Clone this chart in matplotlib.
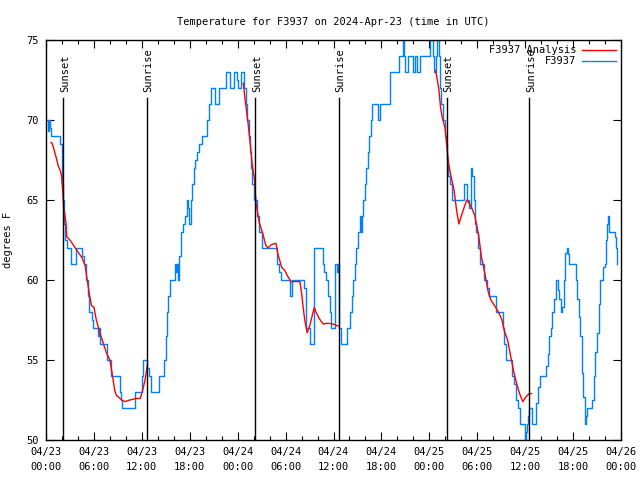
import numpy as np
import matplotlib
matplotlib.use("Agg")
import matplotlib.pyplot as plt
from matplotlib.ticker import MultipleLocator

# -------------------------------
# Data (hours since 04/23 00:00 UTC)
# -------------------------------
obs_hours = [0.0, 0.3, 0.4, 0.55, 0.65, 1.75, 1.95, 2.05, 2.15, 2.25, 2.4, 2.6, 3.1, 3.8,
             4.5, 4.7, 5.0, 5.2, 5.4, 5.7, 5.9, 6.5, 6.6, 6.75, 7.7, 8.2, 9.25, 9.4, 9.5,
             11.1, 12.0, 12.1, 12.7, 12.9, 13.2, 14.2, 14.8, 15.0, 15.15, 15.3, 15.5, 16.1,
             16.25, 16.35, 16.5, 16.7, 16.9, 17.2, 17.4, 17.6, 17.75, 17.9, 18.1, 18.3, 18.5,
             18.7, 18.9, 19.2, 19.5, 20.2, 20.4, 20.6, 21.1, 21.6, 22.5, 23.1, 23.6, 23.9,
             24.1, 24.4, 24.8, 25.0, 25.2, 25.4, 25.55, 25.7, 25.85, 26.1, 26.4, 26.7, 27.0,
             28.9, 29.2, 29.4, 30.5, 30.8, 32.3, 32.5, 32.6, 33.1, 33.6, 34.7, 34.85, 35.1,
             35.3, 35.5, 35.7, 36.25, 36.45, 36.55, 36.65, 36.9, 37.7, 38.1, 38.3, 38.5,
             38.7, 38.85, 39.1, 39.3, 39.45, 39.6, 39.75, 39.9, 40.1, 40.3, 40.5, 40.65,
             40.8, 41.6, 41.85, 43.1, 44.2, 44.65, 44.8, 45.0, 45.3, 45.9, 46.2, 46.4, 46.8,
             48.1, 48.4, 48.6, 48.8, 49.0, 49.15, 49.3, 49.5, 49.7, 49.9, 50.1, 50.25, 50.4,
             50.6, 50.9, 52.3, 52.7, 52.95, 53.2, 53.4, 53.6, 53.7, 53.9, 54.1, 54.4, 54.9,
             55.2, 55.5, 56.4, 57.2, 57.35, 57.6, 58.35, 58.6, 58.8, 59.1, 59.3, 59.95, 60.1,
             60.25, 60.4, 60.5, 60.85, 61.4, 61.6, 61.9, 62.6, 62.8, 63.0, 63.2, 63.4, 63.65,
             63.85, 64.05, 64.2, 64.45, 64.6, 64.8, 65.0, 65.2, 65.35, 65.45, 66.4, 66.55,
             66.7, 66.9, 67.1, 67.3, 67.5, 67.65, 67.8, 68.4, 68.6, 68.8, 69.0, 69.2, 69.4,
             69.7, 69.95, 70.1, 70.25, 70.35, 70.5, 71.2, 71.35, 71.5]
obs_temps = [70, 69.3, 70, 69.5, 69, 68.5, 67.5, 66, 65, 63.5, 62.5, 62, 61, 62,
             61.5, 61, 60, 59, 58, 57.5, 57, 56.5, 57, 56, 55, 54, 53, 52.5, 52,
             53, 54, 55, 54.5, 54, 53, 54, 55, 56.5, 58, 59, 60, 61,
             60.5, 61, 60, 61.5, 63, 63.5, 64, 65, 64.5, 63.5, 65, 66, 67,
             67.5, 68, 68.5, 69, 70, 71, 72, 71, 72, 73, 72, 73, 72.5,
             72, 73, 72, 71, 70, 69, 68, 67, 66, 65, 64, 63, 62,
             61, 60.5, 60, 59, 60, 59.5, 58, 57, 56, 62, 61, 60.5, 60,
             59, 58, 57, 61, 60.5, 61, 57, 56, 57, 58, 59, 60,
             61, 62, 63, 64, 63, 64, 65, 66, 67, 68, 69, 70,
             71, 70, 71, 73, 74, 75, 74, 73, 74, 73, 74, 73, 74,
             75, 74, 73, 74, 75, 74, 72, 71, 70, 69, 68.5, 67.5, 66.5,
             66, 65, 66, 65, 64.5, 67, 66.5, 65, 63.5, 63, 62, 61, 60,
             59.5, 59, 58, 57, 56, 55, 54, 53.5, 52.5, 52, 51, 50, 50.5,
             51, 51.5, 52, 51, 52.3, 53.3, 54, 54.6, 55.4, 56.5, 57, 58, 58.8,
             60, 59.4, 58.8, 58, 58.3, 60, 61.7, 62, 61.6, 61, 60, 58.8,
             57.7, 56.5, 54.2, 52.7, 51, 51.5, 52, 52.5, 54, 55.5, 56.7, 58.5, 60,
             60.8, 61, 62.5, 63.5, 64, 63, 62.7, 62, 61]

# analysis series, three separate runs split by NaN
ana_hours = [0.63, 0.8, 1.25, 1.55, 1.75, 1.95, 2.1, 2.2, 2.5, 2.6, 3.0, 3.8, 4.5, 4.9,
             5.1, 5.4, 5.7, 6.0, 6.3, 6.75, 7.2, 7.6, 8.0, 8.3, 8.6, 8.8, 9.5, 9.9, 10.5,
             11.3, 11.8, 12.1, 12.4, 12.6, 12.7,
             np.nan,
             24.7, 25.0, 25.3, 25.6, 25.8, 26.1, 26.3, 26.7, 27.2, 27.5, 27.8, 28.2, 28.8,
             29.0, 29.5, 29.9, 30.3, 30.7, 31.8, 32.0, 32.2, 32.4, 32.7, 33.0, 33.3, 33.6,
             33.8, 34.2, 34.7, 35.3, 35.9, 36.7,
             np.nan,
             48.8, 49.2, 49.4, 49.6, 50.0, 50.2, 50.4, 50.7, 51.1, 51.4, 51.7, 52.0, 52.4,
             52.7, 53.0, 53.4, 53.7, 53.8, 54.2, 54.5, 54.8, 55.1, 55.4, 55.7, 56.3, 56.75,
             57.1, 57.4, 57.8, 58.2, 58.6, 59.0, 59.3, 59.7, 60.1, 60.5, 60.8]
ana_temps = [68.6, 68.5, 67.7, 67.1, 66.9, 66.5, 65.5, 64.6, 63.6, 62.7, 62.5, 61.9, 61.4, 60.9,
             60.2, 59.2, 58.4, 58.3, 57.5, 56.7, 56.0, 55.4, 55.0, 54.1, 53.1, 52.8, 52.5, 52.4, 52.5,
             52.6, 52.6, 53.1, 53.75, 54.4, 54.7,
             np.nan,
             72.3, 71.0, 69.8, 68.4, 67.3, 66.3, 64.8, 63.6, 62.8, 62.2, 62.0, 62.2, 62.3,
             61.7, 60.8, 60.6, 60.2, 59.9, 59.9, 59.2, 58.3, 57.5, 56.7, 57.1, 57.7, 58.3,
             58.0, 57.6, 57.25, 57.3, 57.25, 57.1,
             np.nan,
             73.1, 71.9, 70.8, 70.2, 69.4, 68.3, 67.3, 66.5, 65.6, 64.4, 63.5, 64.0, 64.6,
             65.0, 64.8, 64.4, 64.0, 63.75, 62.7, 61.5, 60.8, 60.0, 59.2, 58.75, 58.3, 57.9,
             57.5, 56.8, 56.25, 55.2, 54.2, 53.4, 52.9, 52.4, 52.7, 52.9, 52.9]

sunset_hours = [2.17, 26.2, 50.2]
sunrise_hours = [12.6, 36.7, 60.5]

tick_hours = [0, 6, 12, 18, 24, 30, 36, 42, 48, 54, 60, 66, 72]
tick_labels = ["04/23\n00:00", "04/23\n06:00", "04/23\n12:00", "04/23\n18:00",
               "04/24\n00:00", "04/24\n06:00", "04/24\n12:00", "04/24\n18:00",
               "04/25\n00:00", "04/25\n06:00", "04/25\n12:00", "04/25\n18:00",
               "04/26\n00:00"]

# -------------------------------
# Plot
# -------------------------------
plt.rcParams['font.family'] = ['DejaVu Sans Mono']
plt.rcParams['font.size'] = 7.5

fig = plt.figure(figsize=(6.4, 4.8), dpi=100)
ax = fig.add_axes([46 / 640, 40 / 480, 575 / 640, 400 / 480])

ax.plot(ana_hours, ana_temps, color='#ff0000', lw=1.0, label='F3937 Analysis', zorder=3)
ax.plot(obs_hours, obs_temps, color='#0080ff', lw=1.0, drawstyle='steps-post',
        label='F3937', zorder=2)

for h in sunset_hours:
    ax.axvline(h, ymin=0, ymax=0.855, color='black', lw=1.0, zorder=4)
    ax.text(h + 0.2, 0.87, 'Sunset', transform=ax.get_xaxis_transform(),
            rotation=90, ha='center', va='bottom', fontsize=7.5)
for h in sunrise_hours:
    ax.axvline(h, ymin=0, ymax=0.855, color='black', lw=1.0, zorder=4)
    ax.text(h + 0.2, 0.87, 'Sunrise', transform=ax.get_xaxis_transform(),
            rotation=90, ha='center', va='bottom', fontsize=7.5)

ax.set_xlim(0, 72)
ax.set_ylim(50, 75)
ax.set_xticks(tick_hours)
ax.set_xticklabels(tick_labels, linespacing=1.6)
ax.xaxis.set_minor_locator(MultipleLocator(2))
ax.set_yticks([50, 55, 60, 65, 70, 75])
ax.tick_params(which='both', direction='in', top=True, right=True, width=0.8)
ax.tick_params(which='major', length=6, pad=5)
ax.tick_params(which='minor', length=3)
for s in ax.spines.values():
    s.set_linewidth(1.0)

ax.set_ylabel('degrees F', labelpad=10)
ax.set_title('Temperature for F3937 on 2024-Apr-23 (time in UTC)', fontsize=7.5, pad=11)

leg = ax.legend(loc='upper right', frameon=False, markerfirst=False,
                handlelength=3.2, handletextpad=0.6, borderaxespad=0.1,
                labelspacing=0.1, fontsize=7.5)
for t in leg.get_texts():
    t.set_ha('right')

fig.savefig('out.png', dpi=100)
